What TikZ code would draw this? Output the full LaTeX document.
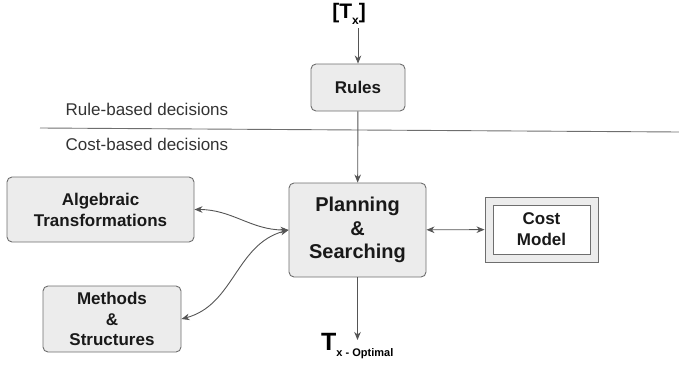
\documentclass[tikz,border=0pt]{standalone}
\usepackage{fontspec}
\setmainfont{Liberation Sans}
\usetikzlibrary{arrows.meta}
\definecolor{boxfill}{HTML}{ECECEC}
\definecolor{boxline}{HTML}{6E6E6E}
\definecolor{arrgray}{HTML}{555555}
\definecolor{txtgray}{HTML}{333333}
\newcommand\bsize[1]{\fontsize{#1}{#1}\selectfont}
\tikzstyle{every edge} = [draw,->,arrgray,line width=0.9pt]
\tikzstyle{block} = [draw=boxline,fill=boxfill,line width=0.9pt,rounded corners=5pt,align=center,font=\bfseries\fontsize{17}{21}\selectfont,text=black!90,inner sep=0pt]
\tikzstyle{decision} = [anchor=base west,inner sep=0pt,text=txtgray,font=\fontsize{17}{20}\selectfont]

\begin{document}
\begin{tikzpicture}[x=1pt,y=1pt,>={Stealth[length=8pt,width=6.5pt,inset=2.5pt]}]
\useasboundingbox (0,0) rectangle (679,365);

\node[block,minimum width=94,minimum height=47] (rules) at (358,277.5) {Rules};
\node[block,minimum width=137,minimum height=94,font=\bfseries\fontsize{20}{23.5}\selectfont] (plan) at (357.5,135) {Planning\\\&\\Searching};
\node[block,minimum width=187,minimum height=65] (alg) at (100.5,155.5) {Algebraic\\Transformations};
\node[block,minimum width=138,minimum height=66,font=\bfseries\fontsize{17}{20.5}\selectfont] (meth) at (112,46) {Methods\\\&\\Structures};
\node[block,rounded corners=0pt,minimum width=113,minimum height=65] (cost) at (541.5,135.5) {};
\node[block,rounded corners=0pt,fill=white,minimum width=97,minimum height=49] (costin) at (cost) {Cost\\Model};

\node[inner sep=0pt,font=\bfseries] (tx) at (349,351) {\bsize{21}[T\raisebox{-6.5pt}{\bsize{12}x}]};
\node[anchor=base west,inner sep=0pt,font=\bfseries] (opt) at (321,15) {\bsize{25}T\raisebox{-6pt}{\bsize{11}x - Optimal}};
\coordinate (optin) at (357.5,25);

% split between the two kinds of decisions
\coordinate (sl) at (40,237);
\coordinate (sr) at (679,233);
\draw[boxline,line width=0.9pt] (sl) -- (sr);
\node[decision] (rb) at (65.5,250) {Rule-based decisions};
\node[decision] (cb) at (65.5,215) {Cost-based decisions};

\draw (tx.south -| rules.north) ++(0,-3) edge (rules.north);
\draw (rules) edge (plan);
\draw (plan) edge (optin);
\draw (plan) edge[<->] (cost);
\draw (plan.west) edge[<->,out=180,in=0] (alg.east);
\draw (plan.west) edge[<->,out=195,in=15] (meth.east);

\end{tikzpicture}
\end{document}
